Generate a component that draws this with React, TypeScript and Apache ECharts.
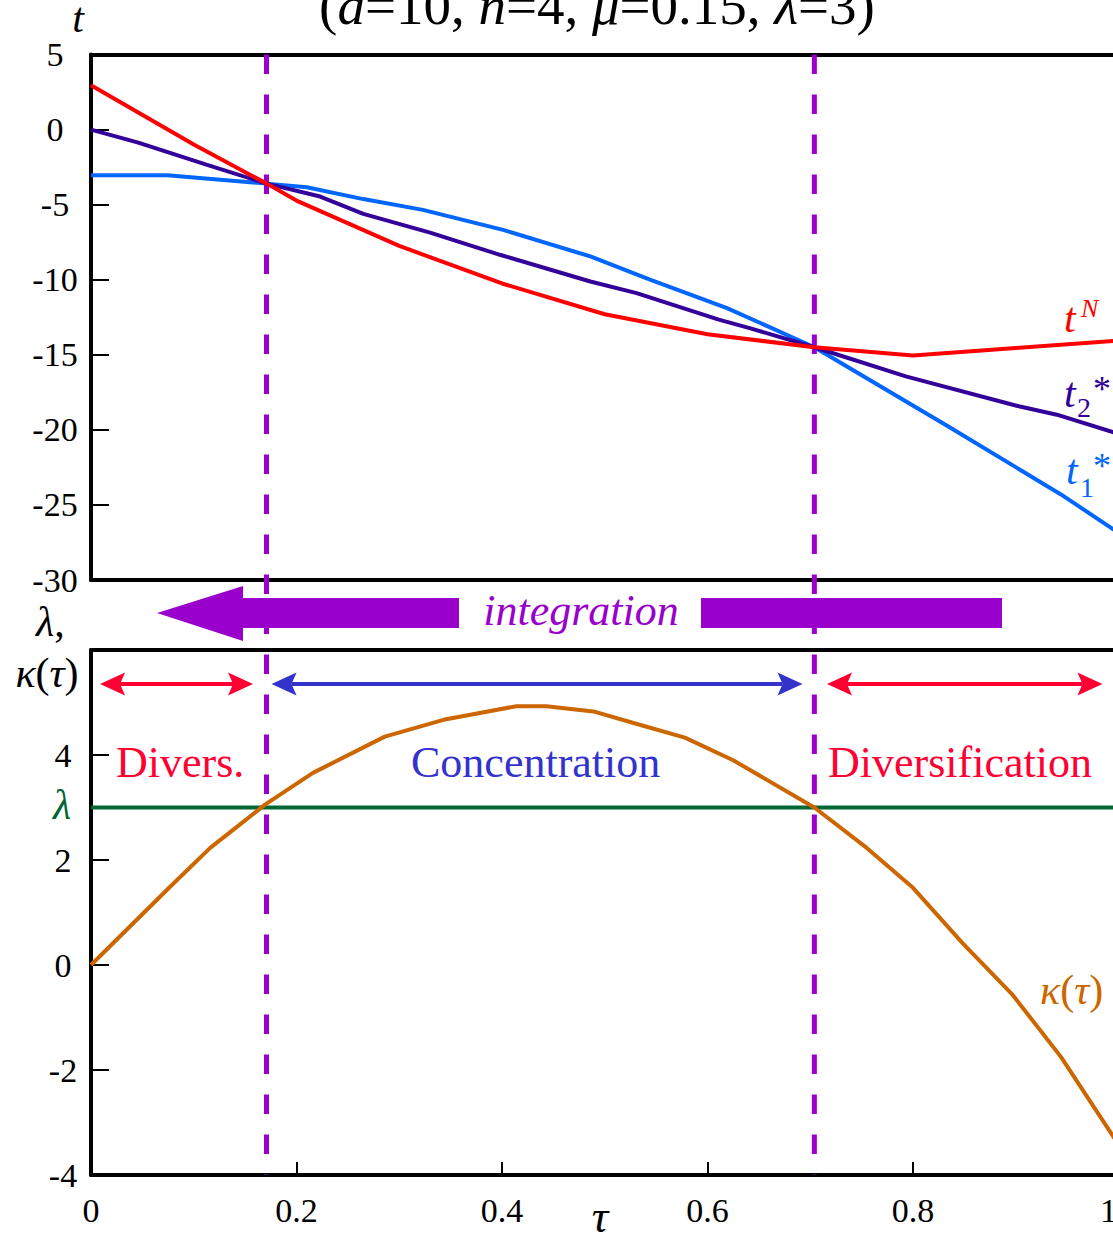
import React, { useEffect, useRef } from "react";
import * as echarts from "echarts";

// ---------- data ----------
const tauN = [0, 0.1, 0.171, 0.2, 0.3, 0.4, 0.5, 0.6, 0.704, 0.8, 0.9, 1.0];
const tNValues = [2.95, -1.0, -3.6, -4.73, -7.75, -10.25, -12.3, -13.63, -14.5, -15.05, -14.55, -14.05];

const tau2 = [0, 0.046, 0.113, 0.171, 0.223, 0.265, 0.33, 0.398, 0.486, 0.531, 0.611, 0.641, 0.704, 0.793, 0.903, 0.94, 1.0];
const t2Values = [0, -0.87, -2.35, -3.6, -4.46, -5.61, -6.86, -8.34, -10.12, -10.89, -12.66, -13.22, -14.5, -16.44, -18.43, -18.99, -20.27];

const tau1 = [0, 0.074, 0.171, 0.21, 0.265, 0.323, 0.401, 0.486, 0.544, 0.619, 0.704, 0.834, 0.944, 1.0];
const t1Values = [-3.04, -3.04, -3.6, -3.84, -4.63, -5.35, -6.68, -8.45, -10.0, -11.89, -14.5, -19.76, -24.3, -26.85];

const tauK = [0, 0.077, 0.116, 0.142, 0.169, 0.216, 0.286, 0.343, 0.414, 0.443, 0.489, 0.528, 0.578, 0.625, 0.704, 0.755, 0.8, 0.848, 0.897, 0.944, 1.0];
const kappaValues = [0, 1.49, 2.23, 2.63, 3.05, 3.66, 4.35, 4.67, 4.93, 4.93, 4.83, 4.61, 4.33, 3.9, 3.0, 2.23, 1.47, 0.42, -0.57, -1.75, -3.42];

const lambdaValue = 3;
const lambdaTau = [0, 1];

// thresholds where kappa(tau) = lambda
const thresholds = [0.1708, 0.704];

// region arrows (tau extents)
const regionArrows = [
  { from: 0.0088, to: 0.1577, color: "#FF0033" },
  { from: 0.1757, to: 0.6925, color: "#3333CC" },
  { from: 0.7163, to: 0.9844, color: "#FF0033" },
];

const topTicks = { min: -30, max: 5, interval: 5 };
const botTicks = { min: -4, max: 6, interval: 2 };

const FONT = "Liberation Serif";

const zip = (xs: number[], ys: number[]) => xs.map((x, i) => [x, ys[i]]);

export default function App() {
  const ref = useRef<HTMLDivElement>(null);

  useEffect(() => {
    if (!ref.current) return;
    const chart = echarts.init(ref.current, undefined, { renderer: "svg" });

    const axisLineStyle = { show: true, onZero: false, lineStyle: { color: "#000", width: 4 } };
    const plainX = (gridIndex: number, position: string) => ({
      gridIndex,
      type: "value",
      min: 0,
      max: 1,
      position,
      axisLine: axisLineStyle,
      axisTick: { show: false },
      axisLabel: { show: false },
      splitLine: { show: false },
    });

    chart.setOption({
      animation: false,
      textStyle: { fontFamily: FONT },
      grid: [
        { left: 91, top: 54.5, width: 1027.5, height: 525.5 },
        { left: 91, top: 650, width: 1027.5, height: 525 },
      ],
      xAxis: [
        plainX(0, "bottom"),
        plainX(0, "top"),
        {
          gridIndex: 1,
          type: "value",
          min: 0,
          max: 1,
          interval: 0.2,
          position: "bottom",
          axisLine: axisLineStyle,
          axisTick: { show: true, inside: true, length: 13, lineStyle: { color: "#000", width: 2 } },
          axisLabel: {
            show: true,
            fontSize: 34,
            fontFamily: FONT,
            color: "#000",
            margin: 18,
            formatter: (v: number) => (v === 1 ? "{r|1}" : String(v)),
            rich: { r: { fontSize: 34, fontFamily: FONT, color: "#000", padding: [0, 20, 0, 0] } },
          },
          splitLine: { show: false },
        },
        plainX(1, "top"),
      ],
      yAxis: [
        {
          gridIndex: 0,
          type: "value",
          min: topTicks.min,
          max: topTicks.max,
          interval: topTicks.interval,
          axisLine: axisLineStyle,
          axisTick: { show: true, inside: true, length: 18, lineStyle: { color: "#000", width: 2 } },
          axisLabel: { fontSize: 34, fontFamily: FONT, color: "#000", align: "center", margin: 36 },
          splitLine: { show: false },
        },
        {
          gridIndex: 1,
          type: "value",
          min: botTicks.min,
          max: botTicks.max,
          interval: botTicks.interval,
          axisLine: axisLineStyle,
          axisTick: { show: true, inside: true, length: 18, lineStyle: { color: "#000", width: 2 } },
          axisLabel: {
            fontSize: 34,
            fontFamily: FONT,
            color: "#000",
            align: "center",
            margin: 28,
            formatter: (v: number) => (v === botTicks.max ? "" : String(v)),
          },
          splitLine: { show: false },
        },
      ],
      series: [
        {
          name: "t1*",
          type: "line",
          xAxisIndex: 0,
          yAxisIndex: 0,
          data: zip(tau1, t1Values),
          symbol: "none",
          silent: true,
          lineStyle: { color: "#0066FF", width: 4 },
          z: 3,
        },
        {
          name: "t2*",
          type: "line",
          xAxisIndex: 0,
          yAxisIndex: 0,
          data: zip(tau2, t2Values),
          symbol: "none",
          silent: true,
          lineStyle: { color: "#330099", width: 4 },
          z: 4,
        },
        {
          name: "tN",
          type: "line",
          xAxisIndex: 0,
          yAxisIndex: 0,
          data: zip(tauN, tNValues),
          symbol: "none",
          silent: true,
          lineStyle: { color: "#FF0000", width: 4 },
          z: 5,
        },
        {
          name: "lambda",
          type: "line",
          xAxisIndex: 2,
          yAxisIndex: 1,
          data: lambdaTau.map((t) => [t, lambdaValue]),
          symbol: "none",
          silent: true,
          lineStyle: { color: "#006633", width: 4 },
          z: 3,
        },
        {
          name: "kappa",
          type: "line",
          xAxisIndex: 2,
          yAxisIndex: 1,
          data: zip(tauK, kappaValues),
          symbol: "none",
          silent: true,
          lineStyle: { color: "#CC6600", width: 4 },
          z: 4,
        },
      ],
    });

    const xOf = (t: number) => chart.convertToPixel({ xAxisIndex: 2 }, t) as number;
    const yTopOf = (v: number) => chart.convertToPixel({ yAxisIndex: 0 }, v) as number;
    const yBotOf = (v: number) => chart.convertToPixel({ yAxisIndex: 1 }, v) as number;

    const yStart = yTopOf(topTicks.max);
    const yEnd = yBotOf(botTicks.min);
    const PURPLE = "#9900CC";

    const g: any[] = [];

    // integration arrow (below dashed lines)
    g.push({
      type: "polygon",
      z: 0,
      shape: {
        points: [
          [157, 613],
          [243, 586],
          [243, 598],
          [459, 598],
          [459, 628],
          [243, 628],
          [243, 641],
        ],
      },
      style: { fill: PURPLE },
    });
    g.push({ type: "rect", z: 0, shape: { x: 701, y: 598, width: 301, height: 30 }, style: { fill: PURPLE } });
    g.push({
      type: "text",
      z: 0,
      x: 581,
      y: 610,
      style: {
        text: "integration",
        fontSize: 44,
        fontStyle: "italic",
        fontFamily: FONT,
        fill: PURPLE,
        align: "center",
        verticalAlign: "middle",
      },
    });

    // dashed thresholds
    thresholds.forEach((t) => {
      const x = xOf(t);
      g.push({
        type: "line",
        z: 1,
        shape: { x1: x, y1: yStart, x2: x, y2: yEnd },
        style: { stroke: PURPLE, lineWidth: 5, lineDash: [19.5, 20.5] },
      });
    });

    // region double arrows
    const ay = 684;
    const L = 25, H = 11.5, N = 20;
    regionArrows.forEach((a) => {
      const x1 = xOf(a.from);
      const x2 = xOf(a.to);
      g.push({
        type: "line",
        z: 1,
        shape: { x1: x1 + N, y1: ay, x2: x2 - N, y2: ay },
        style: { stroke: a.color, lineWidth: 4 },
      });
      g.push({
        type: "polygon",
        z: 1,
        shape: { points: [[x1, ay], [x1 + L, ay - H], [x1 + N, ay], [x1 + L, ay + H]] },
        style: { fill: a.color },
      });
      g.push({
        type: "polygon",
        z: 1,
        shape: { points: [[x2, ay], [x2 - L, ay - H], [x2 - N, ay], [x2 - L, ay + H]] },
        style: { fill: a.color },
      });
    });

    const txt = (text: string, x: number, y: number, opts: any = {}) => ({
      type: "text",
      z: 6,
      x,
      y,
      style: {
        text,
        fontSize: 42,
        fontFamily: FONT,
        fill: "#000",
        align: "left",
        verticalAlign: "middle",
        ...opts,
      },
    });
    const ital = (size: number, fill: string) => ({ fontStyle: "italic", fontSize: size, fontFamily: FONT, fill });

    // region labels
    g.push(txt("Divers.", 116, 762, { fontSize: 44, fill: "#FF0033" }));
    g.push(txt("Concentration", 411, 762, { fontSize: 44, fill: "#3333CC" }));
    g.push(txt("Diversification", 828, 762, { fontSize: 44, fill: "#FF0033" }));

    // title (cut at the top)
    g.push(
      txt("({i|a}=10, {i|n}=4, {i|μ}=0.15, {i|λ}=3)", 597, 5, {
        fontSize: 55,
        align: "center",
        rich: { i: ital(55, "#000") },
      })
    );

    // axis names
    g.push(txt("t", 78, 18, { fontStyle: "italic", align: "center" }));
    g.push(txt("τ", 600, 1216, { fontStyle: "italic", fontSize: 46, align: "center" }));
    g.push(txt("{i|λ},", 36, 622, { rich: { i: ital(42, "#000") } }));
    g.push(txt("{i|κ}({i|τ})", 47, 673, { align: "center", rich: { i: ital(42, "#000") } }));
    g.push(txt("λ", 62, yBotOf(lambdaValue) - 3, { fontStyle: "italic", align: "center", fill: "#006633" }));

    // series labels
    g.push(txt("t", 1064, 318, { fontStyle: "italic", fill: "#FF0000" }));
    g.push(txt("N", 1081, 308, { fontStyle: "italic", fontSize: 26, fill: "#FF0000" }));

    g.push(txt("t", 1064, 393, { fontStyle: "italic", fill: "#330099" }));
    g.push(txt("2", 1077, 407, { fontSize: 28, fill: "#330099" }));
    g.push(txt("*", 1093, 389, { fontSize: 36, fill: "#330099" }));

    g.push(txt("t", 1066, 470, { fontStyle: "italic", fill: "#0066FF" }));
    g.push(txt("1", 1080, 487, { fontSize: 28, fill: "#0066FF" }));
    g.push(txt("*", 1093, 466, { fontSize: 36, fill: "#0066FF" }));

    g.push(txt("{i|κ}({i|τ})", 1040, 990, { fill: "#CC6600", rich: { i: ital(42, "#CC6600") } }));

    chart.setOption({ graphic: g });

    return () => chart.dispose();
  }, []);

  return (
    <div style={{ position: "absolute", left: 0, top: 0, width: 1113, height: 1238, overflow: "hidden", background: "#fff" }}>
      <div ref={ref} style={{ width: 1130, height: 1238 }} />
    </div>
  );
}
